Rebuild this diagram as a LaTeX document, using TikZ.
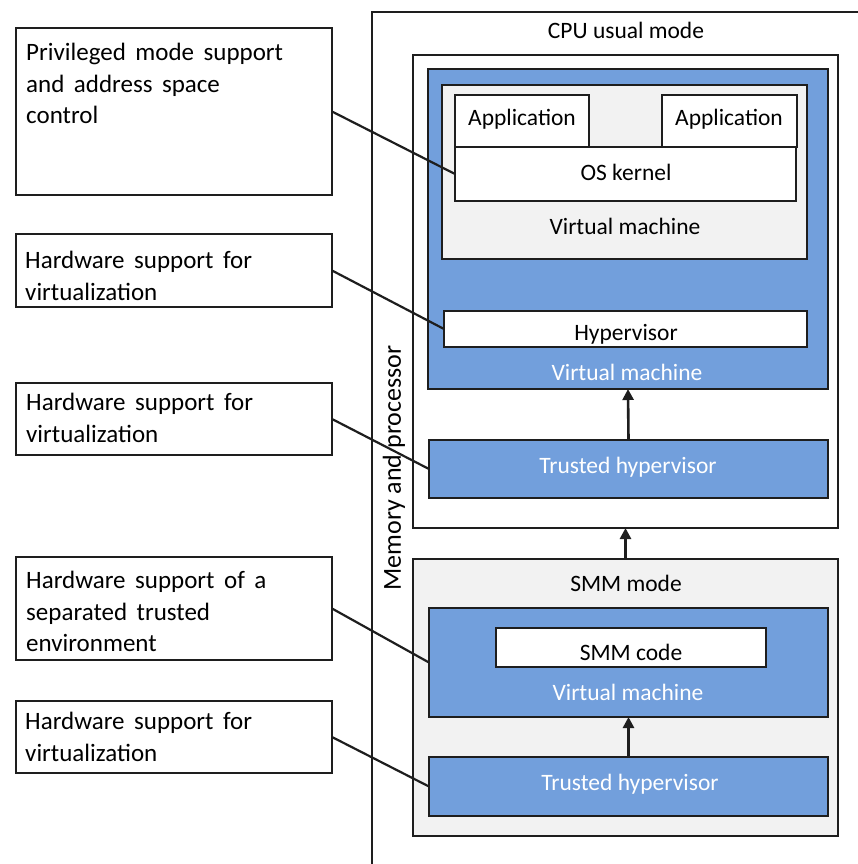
\documentclass[tikz,border=0pt]{standalone}
\usepackage{fontspec}
\setmainfont{Carlito}
\usetikzlibrary{arrows.meta}
\definecolor{vmblue}{HTML}{729FDC}
\definecolor{lgray}{HTML}{F2F2F2}
\definecolor{edge}{HTML}{1E1E1E}
\newcommand\widespaces{\spaceskip=0.38em plus 0.1em\relax}
\tikzset{
  box/.style={draw=edge, line width=2.6pt, inner sep=0pt, outer sep=0pt, anchor=north west},
  bluebox/.style={box, fill=vmblue},
  graybox/.style={box, fill=lgray},
  whitebox/.style={box, fill=white},
  lbl/.style={inner sep=0pt, font=\fontsize{23.5}{27}\selectfont, text=black},
  wlbl/.style={lbl, text=white},
  note/.style={inner sep=0pt, anchor=north west, align=left, font=\fontsize{25}{31.5}\selectfont, execute at begin node=\widespaces},
  conn/.style={draw=edge, line width=2.2pt},
  arr/.style={draw=edge, line width=2.6pt, -{Triangle[width=11pt,length=11pt]}}
}
\begin{document}
\begin{tikzpicture}[x=1pt,y=-1pt]
\useasboundingbox (0,0) rectangle (858,864);
% outer memory and processor box
\draw[edge, line width=2.4pt] (372,880) -- (372,12) -- (880,12);
\node[rotate=90, lbl, font=\fontsize{26}{30}\selectfont] (mem) at (394,468) {Memory and processor};
\node[lbl] (cputxt) at (626,30) {CPU usual mode};
% CPU usual mode box
\node[whitebox, minimum width=425pt, minimum height=473pt] (cpu) at (413,55) {};
\node[bluebox, minimum width=400pt, minimum height=320pt] (vm1) at (428,69) {};
\node[graybox, minimum width=365pt, minimum height=174pt] (gvm) at (442,85) {};
\node[whitebox, minimum width=134pt, minimum height=52pt] (app1) at (455,95) {};
\node[whitebox, minimum width=135pt, minimum height=52pt] (app2) at (662,95) {};
\node[whitebox, minimum width=341pt, minimum height=54pt] (kern) at (455,147) {};
\node[lbl] at (522,119) {Application};
\node[lbl] at (729,119) {Application};
\node[lbl] at (626,172) {OS kernel};
\node[lbl] at (625,226) {Virtual machine};
\node[whitebox, minimum width=363pt, minimum height=36pt] (hyp) at (444,311) {};
\node[lbl] at (626,334) {Hypervisor};
\node[wlbl] at (627,372) {Virtual machine};
\node[bluebox, minimum width=399pt, minimum height=58pt] (th1) at (429,440) {};
\node[wlbl] at (628,467) {Trusted hypervisor};
% SMM mode box
\node[graybox, minimum width=425pt, minimum height=277pt] (smm) at (413,559) {};
\node[lbl] at (626,583) {SMM mode};
\node[bluebox, minimum width=399pt, minimum height=109pt] (vm2) at (429,608) {};
\node[whitebox, minimum width=270pt, minimum height=39pt] (smmc) at (496,628) {};
\node[lbl] at (631,652) {SMM code};
\node[wlbl] at (628,692) {Virtual machine};
\node[bluebox, minimum width=399pt, minimum height=59pt] (th2) at (429,757) {};
\node[wlbl] at (630,784) {Trusted hypervisor};
% arrows
\draw[arr] (th1.north) -- (vm1.south);
\draw[arr] (smm.north) -- (cpu.south);
\draw[arr] (th2.north) -- (vm2.south);
% left note boxes
\node[whitebox, minimum width=316pt, minimum height=167pt] (b1) at (16,28) {};
\node[note] at (26,43) {Privileged mode support\\and address space\\control};
\node[whitebox, minimum width=316pt, minimum height=73pt] (b2) at (16,234) {};
\node[note] at (25,251) {Hardware support for\\virtualization};
\node[whitebox, minimum width=316pt, minimum height=72pt] (b3) at (16,383) {};
\node[note] at (26,393) {Hardware support for\\virtualization};
\node[whitebox, minimum width=316pt, minimum height=103pt] (b4) at (16,557) {};
\node[note] at (26,571) {Hardware support of a\\separated trusted\\environment};
\node[whitebox, minimum width=316pt, minimum height=72pt] (b5) at (16,701) {};
\node[note] at (25,712) {Hardware support for\\virtualization};
% connectors
\draw[conn] (b1.east) -- (kern.west);
\draw[conn] (b2.east) -- (hyp.west);
\draw[conn] (b3.east) -- (th1.west);
\draw[conn] (b4.east) -- (vm2.west);
\draw[conn] (b5.east) -- (th2.west);
\end{tikzpicture}
\end{document}
